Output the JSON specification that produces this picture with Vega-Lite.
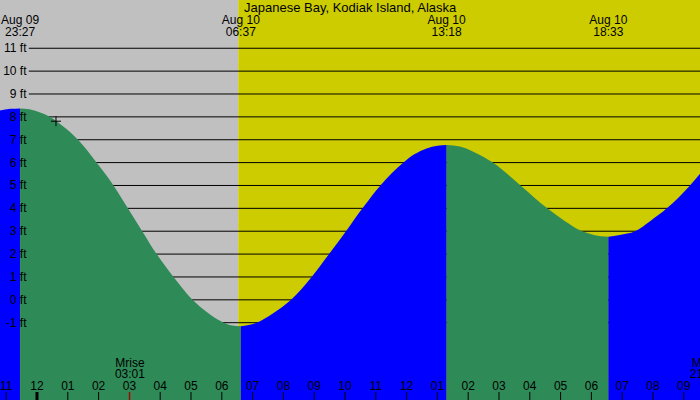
{
  "$schema": "https://vega.github.io/schema/vega-lite/v6.json",
  "width": 700,
  "height": 400,
  "padding": 0,
  "autosize": {"type": "none"},
  "config": {"view": {"stroke": null}, "font": "Liberation Sans", "axis": {"disable": true}},
  "datasets": {
    "sky": [
      {"start": "2024-08-09T22:47:55Z", "end": "2024-08-10T06:32:00Z", "phase": "night"},
      {"start": "2024-08-10T06:32:00Z", "end": "2024-08-10T21:31:35Z", "phase": "day"}
    ],
    "levels": [
      {"ft": -1, "label": "-1 ft"}, {"ft": 0, "label": "0 ft"}, {"ft": 1, "label": "1 ft"},
      {"ft": 2, "label": "2 ft"}, {"ft": 3, "label": "3 ft"}, {"ft": 4, "label": "4 ft"},
      {"ft": 5, "label": "5 ft"}, {"ft": 6, "label": "6 ft"}, {"ft": 7, "label": "7 ft"},
      {"ft": 8, "label": "8 ft"}, {"ft": 9, "label": "9 ft"}, {"ft": 10, "label": "10 ft"},
      {"ft": 11, "label": "11 ft"}
    ],
    "hours": [
      {"t": "2024-08-09T23:00:00Z", "label": "11"},
      {"t": "2024-08-10T00:00:00Z", "label": "12"},
      {"t": "2024-08-10T01:00:00Z", "label": "01"},
      {"t": "2024-08-10T02:00:00Z", "label": "02"},
      {"t": "2024-08-10T03:00:00Z", "label": "03"},
      {"t": "2024-08-10T04:00:00Z", "label": "04"},
      {"t": "2024-08-10T05:00:00Z", "label": "05"},
      {"t": "2024-08-10T06:00:00Z", "label": "06"},
      {"t": "2024-08-10T07:00:00Z", "label": "07"},
      {"t": "2024-08-10T08:00:00Z", "label": "08"},
      {"t": "2024-08-10T09:00:00Z", "label": "09"},
      {"t": "2024-08-10T10:00:00Z", "label": "10"},
      {"t": "2024-08-10T11:00:00Z", "label": "11"},
      {"t": "2024-08-10T12:00:00Z", "label": "12"},
      {"t": "2024-08-10T13:00:00Z", "label": "01"},
      {"t": "2024-08-10T14:00:00Z", "label": "02"},
      {"t": "2024-08-10T15:00:00Z", "label": "03"},
      {"t": "2024-08-10T16:00:00Z", "label": "04"},
      {"t": "2024-08-10T17:00:00Z", "label": "05"},
      {"t": "2024-08-10T18:00:00Z", "label": "06"},
      {"t": "2024-08-10T19:00:00Z", "label": "07"},
      {"t": "2024-08-10T20:00:00Z", "label": "08"},
      {"t": "2024-08-10T21:00:00Z", "label": "09"}
    ],
    "days": [
      {"t": "2024-08-10T00:00:00Z"}
    ],
    "tide": [
      {"t": "2024-08-09T22:47:00Z", "ft": 8.27, "seg": 0, "dir": "rise"},
      {"t": "2024-08-09T23:08:00Z", "ft": 8.35, "seg": 0, "dir": "rise"},
      {"t": "2024-08-09T23:27:00Z", "ft": 8.37, "seg": 0, "dir": "rise"},

      {"t": "2024-08-09T23:27:00Z", "ft": 8.37, "seg": 1, "dir": "fall"},
      {"t": "2024-08-09T23:45:00Z", "ft": 8.33, "seg": 1, "dir": "fall"},
      {"t": "2024-08-10T00:05:00Z", "ft": 8.2, "seg": 1, "dir": "fall"},
      {"t": "2024-08-10T00:25:00Z", "ft": 8.0, "seg": 1, "dir": "fall"},
      {"t": "2024-08-10T00:50:00Z", "ft": 7.6, "seg": 1, "dir": "fall"},
      {"t": "2024-08-10T01:20:00Z", "ft": 7.0, "seg": 1, "dir": "fall"},
      {"t": "2024-08-10T01:56:00Z", "ft": 6.0, "seg": 1, "dir": "fall"},
      {"t": "2024-08-10T02:29:00Z", "ft": 5.0, "seg": 1, "dir": "fall"},
      {"t": "2024-08-10T02:57:00Z", "ft": 4.0, "seg": 1, "dir": "fall"},
      {"t": "2024-08-10T03:25:00Z", "ft": 3.0, "seg": 1, "dir": "fall"},
      {"t": "2024-08-10T03:53:00Z", "ft": 2.0, "seg": 1, "dir": "fall"},
      {"t": "2024-08-10T04:26:00Z", "ft": 1.0, "seg": 1, "dir": "fall"},
      {"t": "2024-08-10T05:03:00Z", "ft": 0.0, "seg": 1, "dir": "fall"},
      {"t": "2024-08-10T05:30:00Z", "ft": -0.52, "seg": 1, "dir": "fall"},
      {"t": "2024-08-10T06:04:00Z", "ft": -1.0, "seg": 1, "dir": "fall"},
      {"t": "2024-08-10T06:20:00Z", "ft": -1.12, "seg": 1, "dir": "fall"},
      {"t": "2024-08-10T06:37:00Z", "ft": -1.15, "seg": 1, "dir": "fall"},

      {"t": "2024-08-10T06:37:00Z", "ft": -1.15, "seg": 2, "dir": "rise"},
      {"t": "2024-08-10T06:52:00Z", "ft": -1.1, "seg": 2, "dir": "rise"},
      {"t": "2024-08-10T07:08:00Z", "ft": -1.0, "seg": 2, "dir": "rise"},
      {"t": "2024-08-10T07:38:00Z", "ft": -0.62, "seg": 2, "dir": "rise"},
      {"t": "2024-08-10T08:15:00Z", "ft": 0.0, "seg": 2, "dir": "rise"},
      {"t": "2024-08-10T08:55:00Z", "ft": 1.0, "seg": 2, "dir": "rise"},
      {"t": "2024-08-10T09:29:00Z", "ft": 2.0, "seg": 2, "dir": "rise"},
      {"t": "2024-08-10T10:02:00Z", "ft": 3.0, "seg": 2, "dir": "rise"},
      {"t": "2024-08-10T10:34:00Z", "ft": 4.0, "seg": 2, "dir": "rise"},
      {"t": "2024-08-10T11:09:00Z", "ft": 5.0, "seg": 2, "dir": "rise"},
      {"t": "2024-08-10T11:54:00Z", "ft": 6.0, "seg": 2, "dir": "rise"},
      {"t": "2024-08-10T12:15:00Z", "ft": 6.36, "seg": 2, "dir": "rise"},
      {"t": "2024-08-10T12:39:00Z", "ft": 6.62, "seg": 2, "dir": "rise"},
      {"t": "2024-08-10T13:00:00Z", "ft": 6.74, "seg": 2, "dir": "rise"},
      {"t": "2024-08-10T13:18:00Z", "ft": 6.77, "seg": 2, "dir": "rise"},

      {"t": "2024-08-10T13:18:00Z", "ft": 6.77, "seg": 3, "dir": "fall"},
      {"t": "2024-08-10T13:44:00Z", "ft": 6.7, "seg": 3, "dir": "fall"},
      {"t": "2024-08-10T14:09:00Z", "ft": 6.49, "seg": 3, "dir": "fall"},
      {"t": "2024-08-10T14:48:00Z", "ft": 6.0, "seg": 3, "dir": "fall"},
      {"t": "2024-08-10T15:42:00Z", "ft": 5.0, "seg": 3, "dir": "fall"},
      {"t": "2024-08-10T16:34:00Z", "ft": 4.0, "seg": 3, "dir": "fall"},
      {"t": "2024-08-10T17:08:00Z", "ft": 3.45, "seg": 3, "dir": "fall"},
      {"t": "2024-08-10T17:42:00Z", "ft": 3.0, "seg": 3, "dir": "fall"},
      {"t": "2024-08-10T18:05:00Z", "ft": 2.84, "seg": 3, "dir": "fall"},
      {"t": "2024-08-10T18:33:00Z", "ft": 2.76, "seg": 3, "dir": "fall"},

      {"t": "2024-08-10T18:33:00Z", "ft": 2.76, "seg": 4, "dir": "rise"},
      {"t": "2024-08-10T18:55:00Z", "ft": 2.84, "seg": 4, "dir": "rise"},
      {"t": "2024-08-10T19:25:00Z", "ft": 3.0, "seg": 4, "dir": "rise"},
      {"t": "2024-08-10T19:55:00Z", "ft": 3.45, "seg": 4, "dir": "rise"},
      {"t": "2024-08-10T20:27:00Z", "ft": 4.0, "seg": 4, "dir": "rise"},
      {"t": "2024-08-10T21:12:00Z", "ft": 5.0, "seg": 4, "dir": "rise"},
      {"t": "2024-08-10T21:33:00Z", "ft": 5.55, "seg": 4, "dir": "rise"}
    ],
    "extremes": [
      {"t": "2024-08-09T23:27:00Z", "ft": 8.37, "label": "Aug 09\n23:27"},
      {"t": "2024-08-10T06:37:00Z", "ft": -1.15, "label": "Aug 10\n06:37"},
      {"t": "2024-08-10T13:18:00Z", "ft": 6.77, "label": "Aug 10\n13:18"},
      {"t": "2024-08-10T18:33:00Z", "ft": 2.76, "label": "Aug 10\n18:33"}
    ],
    "moon": [
      {"t": "2024-08-10T03:01:00Z", "label": "Mrise\n03:01"},
      {"t": "2024-08-10T21:41:00Z", "label": "Mset\n21:41"}
    ],
    "now": [
      {"t": "2024-08-10T00:37:00Z", "ft": 7.81}
    ],
    "place": [
      {"t": "2024-08-10T10:10:00Z", "name": "Japanese Bay, Kodiak Island, Alaska"}
    ]
  },
  "layer": [
    {
      "data": {"name": "sky"},
      "mark": {"type": "rect"},
      "encoding": {
        "x": {
          "field": "start",
          "type": "temporal",
          "scale": {"type": "utc", "domain": [1723243675000, 1723325495000]},
          "axis": null
        },
        "x2": {"field": "end"},
        "color": {
          "field": "phase",
          "type": "nominal",
          "scale": {"domain": ["night", "day"], "range": ["#c0c0c0", "#cccc00"]},
          "legend": null
        }
      }
    },
    {
      "data": {"name": "levels"},
      "mark": {"type": "rule", "color": "black", "strokeWidth": 1},
      "encoding": {
        "y": {
          "field": "ft",
          "type": "quantitative",
          "scale": {"domain": [-4.38, 13.11], "nice": false, "zero": false},
          "axis": null
        },
        "x": {"datum": 1723247040000, "type": "temporal"},
        "x2": {"datum": 1723325495000}
      }
    },
    {
      "data": {"name": "tide"},
      "mark": {"type": "area", "interpolate": "monotone"},
      "encoding": {
        "x": {"field": "t", "type": "temporal"},
        "y": {"field": "ft", "type": "quantitative", "stack": null},
        "y2": {"datum": -4.38},
        "color": {
          "field": "dir",
          "type": "nominal",
          "scale": {"domain": ["rise", "fall"], "range": ["#0000ff", "#2e8b57"]},
          "legend": null
        },
        "detail": {"field": "seg", "type": "nominal"}
      }
    },
    {
      "data": {"name": "hours"},
      "mark": {"type": "rule", "color": "black", "strokeWidth": 1},
      "encoding": {
        "x": {"field": "t", "type": "temporal"},
        "y": {"datum": -4.03},
        "y2": {"datum": -4.38}
      }
    },
    {
      "data": {"name": "days"},
      "mark": {"type": "rule", "color": "black", "strokeWidth": 3},
      "encoding": {
        "x": {"field": "t", "type": "temporal"},
        "y": {"datum": -4.03},
        "y2": {"datum": -4.38}
      }
    },
    {
      "data": {"name": "moon"},
      "mark": {"type": "rule", "color": "#ff0000", "strokeWidth": 1},
      "encoding": {
        "x": {"field": "t", "type": "temporal"},
        "y": {"datum": -4.03},
        "y2": {"datum": -4.38}
      }
    },
    {
      "data": {"name": "now"},
      "mark": {
        "type": "point",
        "shape": "M-1,0H1M0,-1V1",
        "size": 100,
        "filled": false,
        "stroke": "black",
        "strokeWidth": 1,
        "opacity": 1
      },
      "encoding": {
        "x": {"field": "t", "type": "temporal"},
        "y": {"field": "ft", "type": "quantitative"}
      }
    },
    {
      "data": {"name": "levels"},
      "mark": {"type": "text", "fontSize": 12, "color": "black", "align": "right", "baseline": "middle"},
      "encoding": {
        "x": {"datum": 1723246772000, "type": "temporal"},
        "y": {"field": "ft", "type": "quantitative"},
        "text": {"field": "label"}
      }
    },
    {
      "data": {"name": "hours"},
      "mark": {"type": "text", "fontSize": 12, "color": "black", "align": "center", "baseline": "alphabetic"},
      "encoding": {
        "x": {"field": "t", "type": "temporal"},
        "y": {"datum": -3.944},
        "text": {"field": "label"}
      }
    },
    {
      "data": {"name": "extremes"},
      "mark": {"type": "text", "fontSize": 12, "color": "black", "align": "center", "baseline": "alphabetic", "lineBreak": "\n", "lineHeight": 12},
      "encoding": {
        "x": {"field": "t", "type": "temporal"},
        "y": {"datum": 12.06},
        "text": {"field": "label"}
      }
    },
    {
      "data": {"name": "moon"},
      "mark": {"type": "text", "fontSize": 12, "color": "black", "align": "center", "baseline": "alphabetic", "lineBreak": "\n", "lineHeight": 11},
      "encoding": {
        "x": {"field": "t", "type": "temporal"},
        "y": {"datum": -2.93},
        "text": {"field": "label"}
      }
    },
    {
      "data": {"name": "place"},
      "mark": {"type": "text", "fontSize": 13, "color": "black", "align": "center", "baseline": "alphabetic"},
      "encoding": {
        "x": {"field": "t", "type": "temporal"},
        "y": {"datum": 12.59},
        "text": {"field": "name"}
      }
    }
  ],
  "resolve": {"scale": {"color": "independent"}}
}
